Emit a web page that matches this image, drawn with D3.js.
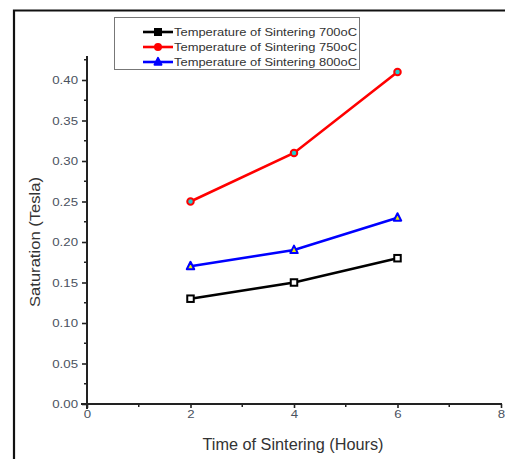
<!DOCTYPE html>
<html><head><meta charset="utf-8">
<script src="https://cdn.jsdelivr.net/npm/d3@7"></script>
<style>body{margin:0;background:#fff}svg{display:block}</style>
</head><body>
<script>
const hours = [2, 4, 6];
const s700 = [0.13, 0.15, 0.18];
const s750 = [0.25, 0.31, 0.41];
const s800 = [0.17, 0.19, 0.23];
const seriesNames = ["Temperature of Sintering 700oC", "Temperature of Sintering 750oC", "Temperature of Sintering 800oC"];
const xTicks = [0, 2, 4, 6, 8];
const yTicks = [0, 0.05, 0.10, 0.15, 0.20, 0.25, 0.30, 0.35, 0.40];

const W = 505, H = 459;
const svg = d3.select("body").append("svg").attr("width", W).attr("height", H);
const font = "Arial, 'Liberation Sans', sans-serif";

function stretch(sel, k) {
  sel.each(function() {
    const L = this.getComputedTextLength();
    d3.select(this).attr("textLength", L * k).attr("lengthAdjust", "spacingAndGlyphs");
  });
}

// outer frame
svg.append("path").attr("d", `M14,${H} L14,10.5 L${W},10.5`).attr("fill", "none").attr("stroke", "#111").attr("stroke-width", 2.2);

const x = d3.scaleLinear().domain([0, 8]).range([87, 501]);
const y = d3.scaleLinear().domain([0, 0.40]).range([404, 80]);

// y axis
const yAxis = d3.axisLeft(y).tickValues(yTicks).tickFormat(d3.format(".2f")).tickSize(5).tickPadding(4);
const gy = svg.append("g").attr("transform", "translate(87,0)").call(yAxis);
gy.select(".domain").remove();
svg.append("line").attr("x1", 87).attr("x2", 87).attr("y1", 56).attr("y2", 409).attr("stroke", "#222").attr("stroke-width", 2);
const yMinor = d3.range(0.025, 0.43, 0.05);
svg.append("g").selectAll("line").data(yMinor).join("line")
  .attr("x1", 84).attr("x2", 87).attr("y1", d => y(d)).attr("y2", d => y(d)).attr("stroke", "#222").attr("stroke-width", 1.5);
gy.selectAll(".tick line").attr("stroke", "#222").attr("stroke-width", 1.6);
gy.selectAll(".tick text").attr("font-family", font).attr("font-size", 11.5).attr("fill", "#4a5260");
stretch(gy.selectAll(".tick text"), 1.15);

// x axis
const xAxis = d3.axisBottom(x).tickValues(xTicks).tickFormat(d3.format("d")).tickSize(4).tickPadding(1.5);
const gx = svg.append("g").attr("transform", "translate(0,404)").call(xAxis);
gx.select(".domain").remove();
svg.append("line").attr("x1", 81).attr("x2", 502).attr("y1", 404).attr("y2", 404).attr("stroke", "#222").attr("stroke-width", 2);
svg.append("g").selectAll("line").data([1, 3, 5, 7]).join("line")
  .attr("x1", d => x(d)).attr("x2", d => x(d)).attr("y1", 404).attr("y2", 407).attr("stroke", "#222").attr("stroke-width", 1.5);
gx.selectAll(".tick line").attr("stroke", "#222").attr("stroke-width", 1.6);
gx.selectAll(".tick text").attr("font-family", font).attr("font-size", 11.5).attr("fill", "#4a5260");
stretch(gx.selectAll(".tick text"), 1.15);

// axis titles
const yt = svg.append("text").attr("transform", "translate(40,242) rotate(-90)").attr("text-anchor", "middle")
  .attr("font-family", font).attr("font-size", 15).attr("fill", "#333").text("Saturation (Tesla)");
stretch(yt, 130 / yt.node().getComputedTextLength());
const xt = svg.append("text").attr("x", 293).attr("y", 450).attr("text-anchor", "middle")
  .attr("font-family", font).attr("font-size", 16).attr("fill", "#333").text("Time of Sintering (Hours)");
stretch(xt, 181 / xt.node().getComputedTextLength());

const series = [
  {vals: s700, color: "#000", fill: "#fff", shape: "square"},
  {vals: s750, color: "#f00", fill: "#2cc", shape: "circle"},
  {vals: s800, color: "#00f", fill: "#ee0", shape: "triangle"}
];
const line = d3.line().x(d => x(d[0])).y(d => y(d[1]));

function marker(g, shape, cx, cy, color, fill, size) {
  if (shape === "square") {
    g.append("rect").attr("x", cx - size/2).attr("y", cy - size/2).attr("width", size).attr("height", size)
      .attr("fill", fill).attr("stroke", color).attr("stroke-width", 2);
  } else if (shape === "circle") {
    g.append("circle").attr("cx", cx).attr("cy", cy).attr("r", size/2).attr("fill", fill).attr("stroke", color).attr("stroke-width", 2);
  } else {
    const s = size * 1.15;
    g.append("path").attr("d", `M${cx},${cy - s*0.6} L${cx + s/2},${cy + s*0.4} L${cx - s/2},${cy + s*0.4} Z`)
      .attr("fill", fill).attr("stroke", color).attr("stroke-width", 2).attr("stroke-linejoin", "round");
  }
}

series.forEach(s => {
  const pts = hours.map((h, i) => [h, s.vals[i]]);
  svg.append("path").attr("d", line(pts)).attr("fill", "none").attr("stroke", s.color).attr("stroke-width", 2.6);
  const g = svg.append("g");
  pts.forEach(p => marker(g, s.shape, x(p[0]), y(p[1]), s.color, s.fill, 6.5));
});

// legend
svg.append("rect").attr("x", 114.5).attr("y", 17.5).attr("width", 245).attr("height", 52)
  .attr("fill", "#fff").attr("stroke", "#777").attr("stroke-width", 1);
series.forEach((s, i) => {
  const ly = 32 + i * 15;
  svg.append("line").attr("x1", 143).attr("x2", 173).attr("y1", ly).attr("y2", ly).attr("stroke", s.color).attr("stroke-width", 2.6);
  const g = svg.append("g");
  marker(g, s.shape, 158, ly, s.color, s.color, 6);
  const t = svg.append("text").attr("x", 174).attr("y", ly + 4).attr("font-family", font).attr("font-size", 11.5)
    .attr("fill", "#333").text(seriesNames[i]);
  stretch(t, 183 / t.node().getComputedTextLength());
});
</script>
</body></html>
